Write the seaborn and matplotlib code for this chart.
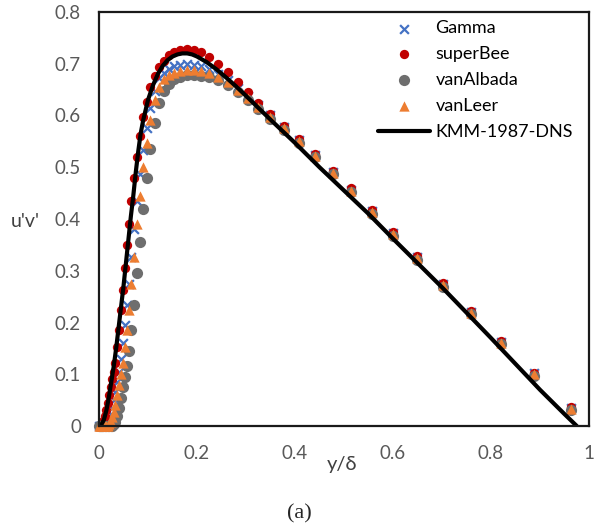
import matplotlib
matplotlib.use("Agg")
import matplotlib.pyplot as plt
import seaborn as sns
import pandas as pd

# mesh points shared by the four schemes (y/delta)
x_grid = [0.000, 0.002, 0.004, 0.006, 0.009, 0.012, 0.015, 0.018, 0.021, 0.024,
          0.027, 0.030, 0.033, 0.037, 0.041, 0.045, 0.049, 0.053, 0.057, 0.061,
          0.066, 0.071, 0.077, 0.083, 0.090, 0.097, 0.105, 0.114, 0.123, 0.133,
          0.143, 0.154, 0.166, 0.179, 0.193, 0.208, 0.224, 0.243, 0.263, 0.284,
          0.304, 0.324, 0.349, 0.378, 0.408, 0.441, 0.478, 0.514, 0.557, 0.600,
          0.649, 0.703, 0.759, 0.820, 0.888, 0.963]

gamma = [0, 0, 0, 0, 0, 0, 0.002, 0.007, 0.013, 0.023,
         0.035, 0.050, 0.065, 0.085, 0.105, 0.130, 0.161, 0.196, 0.234, 0.274,
         0.327, 0.380, 0.435, 0.487, 0.533, 0.576, 0.614, 0.648, 0.672, 0.683,
         0.690, 0.695, 0.698, 0.699, 0.698, 0.695, 0.689, 0.680, 0.668, 0.653,
         0.637, 0.620, 0.601, 0.578, 0.552, 0.524, 0.491, 0.457, 0.415, 0.373,
         0.326, 0.274, 0.221, 0.163, 0.102, 0.035]

super_bee = [0, 0, 0.002, 0.005, 0.010, 0.020, 0.030, 0.045, 0.060, 0.075,
             0.090, 0.105, 0.122, 0.153, 0.186, 0.224, 0.263, 0.305, 0.350, 0.390,
             0.435, 0.480, 0.520, 0.560, 0.597, 0.627, 0.655, 0.677, 0.693, 0.706,
             0.716, 0.723, 0.727, 0.728, 0.727, 0.722, 0.713, 0.700, 0.684, 0.665,
             0.645, 0.625, 0.603, 0.580, 0.554, 0.526, 0.493, 0.459, 0.417, 0.375,
             0.328, 0.276, 0.222, 0.164, 0.103, 0.036]

van_albada = [0, 0, 0, 0, 0, 0, 0, 0, 0, 0,
              0, 0.004, 0.008, 0.020, 0.035, 0.055, 0.075, 0.095, 0.116, 0.145,
              0.186, 0.234, 0.295, 0.355, 0.420, 0.480, 0.535, 0.585, 0.625, 0.648,
              0.661, 0.670, 0.675, 0.678, 0.678, 0.677, 0.674, 0.668, 0.658, 0.645,
              0.630, 0.612, 0.594, 0.572, 0.547, 0.519, 0.486, 0.452, 0.410, 0.368,
              0.321, 0.269, 0.216, 0.158, 0.097, 0.030]

van_leer = [0, 0, 0, 0, 0, 0, 0, 0, 0.004, 0.008,
            0.017, 0.027, 0.040, 0.060, 0.080, 0.100, 0.122, 0.153, 0.186, 0.224,
            0.274, 0.327, 0.390, 0.444, 0.500, 0.547, 0.592, 0.630, 0.656, 0.670,
            0.678, 0.683, 0.686, 0.688, 0.688, 0.686, 0.682, 0.675, 0.664, 0.650,
            0.634, 0.616, 0.598, 0.576, 0.550, 0.522, 0.489, 0.455, 0.413, 0.371,
            0.324, 0.272, 0.219, 0.161, 0.100, 0.033]

# KMM 1987 DNS curve
dns_x = [0, 0.005, 0.01, 0.015, 0.02, 0.025, 0.03, 0.035, 0.04, 0.045,
         0.05, 0.055, 0.06, 0.065, 0.07, 0.075, 0.08, 0.085, 0.09, 0.10,
         0.11, 0.12, 0.13, 0.14, 0.15, 0.16, 0.17, 0.18, 0.19, 0.20,
         0.22, 0.24, 0.26, 0.28, 0.30, 0.35, 0.40, 0.45, 0.50, 0.55,
         0.60, 0.65, 0.70, 0.75, 0.80, 0.85, 0.90, 0.95, 0.975]
dns_y = [0, 0.003, 0.012, 0.03, 0.055, 0.085, 0.115, 0.15, 0.19, 0.23,
         0.27, 0.315, 0.36, 0.405, 0.445, 0.49, 0.53, 0.565, 0.59, 0.63,
         0.658, 0.68, 0.696, 0.707, 0.714, 0.718, 0.72, 0.72, 0.718, 0.714,
         0.703, 0.689, 0.673, 0.656, 0.638, 0.592, 0.547, 0.50, 0.455, 0.41,
         0.362, 0.315, 0.268, 0.219, 0.17, 0.12, 0.07, 0.023, 0.0]

x_ticks = [0, 0.2, 0.4, 0.6, 0.8, 1]
x_tick_labels = ["0", "0.2", "0.4", "0.6", "0.8", "1"]
y_ticks = [0, 0.1, 0.2, 0.3, 0.4, 0.5, 0.6, 0.7, 0.8]
y_tick_labels = ["0", "0.1", "0.2", "0.3", "0.4", "0.5", "0.6", "0.7", "0.8"]

sns.set_style("white")
plt.rcParams["font.family"] = ["Lato", "DejaVu Sans"]

fig = plt.figure(figsize=(6.01, 5.29), dpi=100)
ax = fig.add_axes([99 / 601, 103 / 529, 490 / 601, 414 / 529])

# scheme results
schemes = [
    ("Gamma", gamma, "x", "#4472C4", 40, 1.6),
    ("superBee", super_bee, "o", "#C00000", 45, 0),
    ("vanAlbada", van_albada, "o", "#6E6E6E", 65, 0),
    ("vanLeer", van_leer, "^", "#ED7D31", 55, 0),
]
for name, vals, mk, col, size, lw in schemes:
    df = pd.DataFrame({"x": x_grid, "y": vals})
    sns.scatterplot(data=df, x="x", y="y", ax=ax, marker=mk, color=col, s=size,
                    linewidth=lw, edgecolor=col if mk != "x" else None,
                    label=name, clip_on=False)

dns = pd.DataFrame({"x": dns_x, "y": dns_y})
sns.lineplot(data=dns, x="x", y="y", ax=ax, color="black", linewidth=3,
             sort=False, estimator=None, label="KMM-1987-DNS")

ax.set_xlim(0, 1)
ax.set_ylim(0, 0.8)
ax.set_xticks(x_ticks)
ax.set_xticklabels(x_tick_labels)
ax.set_yticks(y_ticks)
ax.set_yticklabels(y_tick_labels)
ax.tick_params(axis="x", length=0, pad=14, labelsize=13.5, labelcolor="#595959")
ax.tick_params(axis="y", length=0, pad=13, labelsize=13.5, labelcolor="#595959")
for sp in ax.spines.values():
    sp.set_color("#1a1a1a")
    sp.set_linewidth(1.6)

ax.set_xlabel("y/δ", fontsize=14.5, color="#404040")
ax.xaxis.set_label_coords(0.496, -0.072)
ax.set_ylabel("u'v'", fontsize=14, color="#404040", rotation=0, va="center", ha="center")
ax.yaxis.set_label_coords(-0.151, 0.495)

ax.legend(loc="upper left", bbox_to_anchor=(0.569, 0.98), frameon=False,
          fontsize=13, handlelength=2.9, handletextpad=0.3, labelspacing=0.55,
          borderpad=0, borderaxespad=0, labelcolor="black")

fig.text(0.4975, 0.028, "(a)", fontsize=16, family=["Liberation Serif"],
         ha="center", va="center")

fig.savefig("out.png", dpi=100)
